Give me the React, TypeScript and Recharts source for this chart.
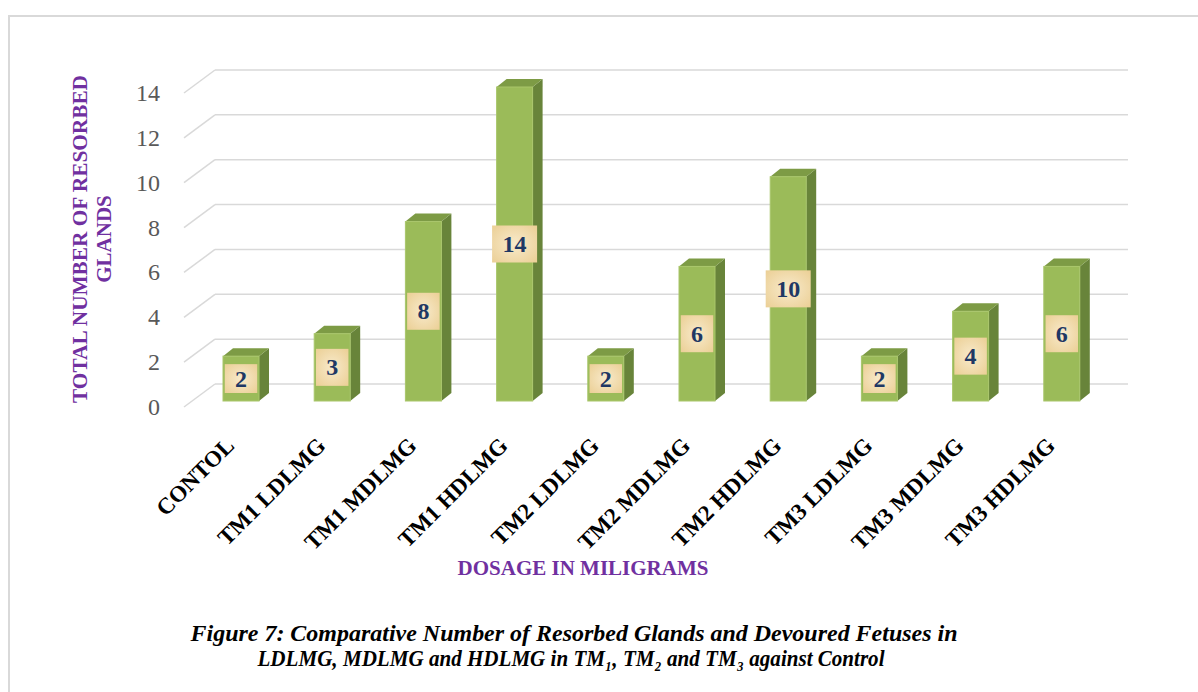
import React from 'react';
import { BarChart, Bar, XAxis, YAxis, CartesianGrid } from 'recharts';

const categories = [
  'CONTOL',
  'TM1 LDLMG',
  'TM1 MDLMG',
  'TM1 HDLMG',
  'TM2 LDLMG',
  'TM2 MDLMG',
  'TM2 HDLMG',
  'TM3 LDLMG',
  'TM3 MDLMG',
  'TM3 HDLMG',
];
const resorbedGlands = [2, 3, 8, 14, 2, 6, 10, 2, 4, 6];
const yTicks = [0, 2, 4, 6, 8, 10, 12, 14];

const data = categories.map((name, i) => ({ name, value: resorbedGlands[i] }));

const SERIF = '"Liberation Serif", "Times New Roman", serif';
const PURPLE = '#7030A0';
const GRID = '#D9D9D9';

// 3D look: depth offset of the box and of the back wall
const DX = 10;
const DY = -8;

const GridLine = (props: any) => {
  const { x1, x2, y1 } = props;
  return (
    <g>
      <line x1={x1 - 11} y1={y1 + 6} x2={x1 + 20} y2={y1 - 17} stroke={GRID} strokeWidth={1.5} />
      <line x1={x1 + 20} y1={y1 - 17} x2={x2 + 21} y2={y1 - 17} stroke={GRID} strokeWidth={1.5} />
    </g>
  );
};

const Box3D = (props: any) => {
  const { x, y, width: w, height: h, payload } = props;
  if (h == null || w == null) return null;
  const txt = String(payload.value);
  const bw = 20 + 12.5 * txt.length;
  const bh = Math.min(37, h - 16);
  const cx = x + w / 2;
  const cy = y + h / 2;
  return (
    <g>
      {/* side */}
      <path
        d={`M${x + w},${y} L${x + w + DX},${y + DY} L${x + w + DX},${y + h + DY} L${x + w},${y + h} Z`}
        fill="#68843A"
      />
      {/* top */}
      <path
        d={`M${x},${y} L${x + DX},${y + DY} L${x + w + DX},${y + DY} L${x + w},${y} Z`}
        fill="#7D9B45"
      />
      {/* front */}
      <rect x={x} y={y} width={w} height={h} fill="#9BBB59" stroke="#A9C66B" strokeWidth={1} />
      <rect x={cx - bw / 2} y={cy - bh / 2} width={bw} height={bh} fill="url(#tanFill)" />
      <text
        x={cx}
        y={cy + 8}
        textAnchor="middle"
        fontFamily={SERIF}
        fontWeight="bold"
        fontSize={24}
        fill="#1F3864"
      >
        {txt}
      </text>
    </g>
  );
};

const YTick = (props: any) => {
  const { x, y, payload } = props;
  return (
    <text x={x} y={y + 14} textAnchor="end" fontFamily={SERIF} fontSize={24} fill="#595959">
      {payload.value}
    </text>
  );
};

const XTick = (props: any) => {
  const { x, y, payload } = props;
  const tx = x - 5;
  const ty = y + 46;
  return (
    <text
      x={tx}
      y={ty}
      textAnchor="end"
      transform={`rotate(-45 ${tx} ${ty})`}
      fontFamily={SERIF}
      fontWeight="bold"
      fontSize={23}
      fill="#000"
    >
      {payload.value}
    </text>
  );
};

export default function App() {
  return (
    <div style={{ position: 'absolute', left: 0, top: 0, width: 1198, height: 692, background: '#fff' }}>
      <div
        style={{
          position: 'absolute',
          left: 8,
          top: 15,
          right: 0,
          bottom: 0,
          borderLeft: `2px solid ${GRID}`,
          borderTop: `2px solid ${GRID}`,
        }}
      />
      <svg width={0} height={0} style={{ position: 'absolute' }}>
        <defs>
          <radialGradient id="tanFill" cx="50%" cy="50%" r="70%">
            <stop offset="0%" stopColor="#F8EACB" />
            <stop offset="100%" stopColor="#EBCF95" />
          </radialGradient>
        </defs>
      </svg>
      <div style={{ position: 'absolute', left: 0, top: 0 }}>
        <BarChart
          width={1198}
          height={692}
          data={data}
          margin={{ top: 87, right: 91, bottom: 261, left: 135 }}
          barSize={36}
        >
          <CartesianGrid vertical={false} horizontal={GridLine} />
          <XAxis
            dataKey="name"
            height={30}
            axisLine={false}
            tickLine={false}
            tickSize={0}
            tickMargin={0}
            interval={0}
            tick={XTick}
          />
          <YAxis
            width={60}
            domain={[0, 14]}
            ticks={yTicks}
            axisLine={false}
            tickLine={false}
            tickSize={0}
            tickMargin={35}
            tick={YTick}
          />
          <Bar dataKey="value" shape={Box3D} isAnimationActive={false} />
        </BarChart>
      </div>
      <svg
        width={1198}
        height={692}
        style={{ position: 'absolute', left: 0, top: 0, pointerEvents: 'none' }}
      >
        <g fontFamily={SERIF} fontWeight="bold" fill={PURPLE} fontSize={21}>
          <text x={87} y={239} textAnchor="middle" transform="rotate(-90 87 239)" textLength={328} lengthAdjust="spacingAndGlyphs">
            TOTAL NUMBER OF RESORBED
          </text>
          <text x={111} y={239} textAnchor="middle" transform="rotate(-90 111 239)">
            GLANDS
          </text>
          <text x={583} y={575} textAnchor="middle">
            DOSAGE IN MILIGRAMS
          </text>
        </g>
        <g fontFamily={SERIF} fontWeight="bold" fontStyle="italic" fill="#000" fontSize={23}>
          <text x={574} y={641} textAnchor="middle" textLength={767} lengthAdjust="spacingAndGlyphs">
            Figure 7: Comparative Number of Resorbed Glands and Devoured Fetuses in
          </text>
          <text x={571} y={666} textAnchor="middle" textLength={627} lengthAdjust="spacingAndGlyphs">
            LDLMG, MDLMG and HDLMG in TM₁, TM₂ and TM₃ against Control
          </text>
        </g>
      </svg>
    </div>
  );
}
